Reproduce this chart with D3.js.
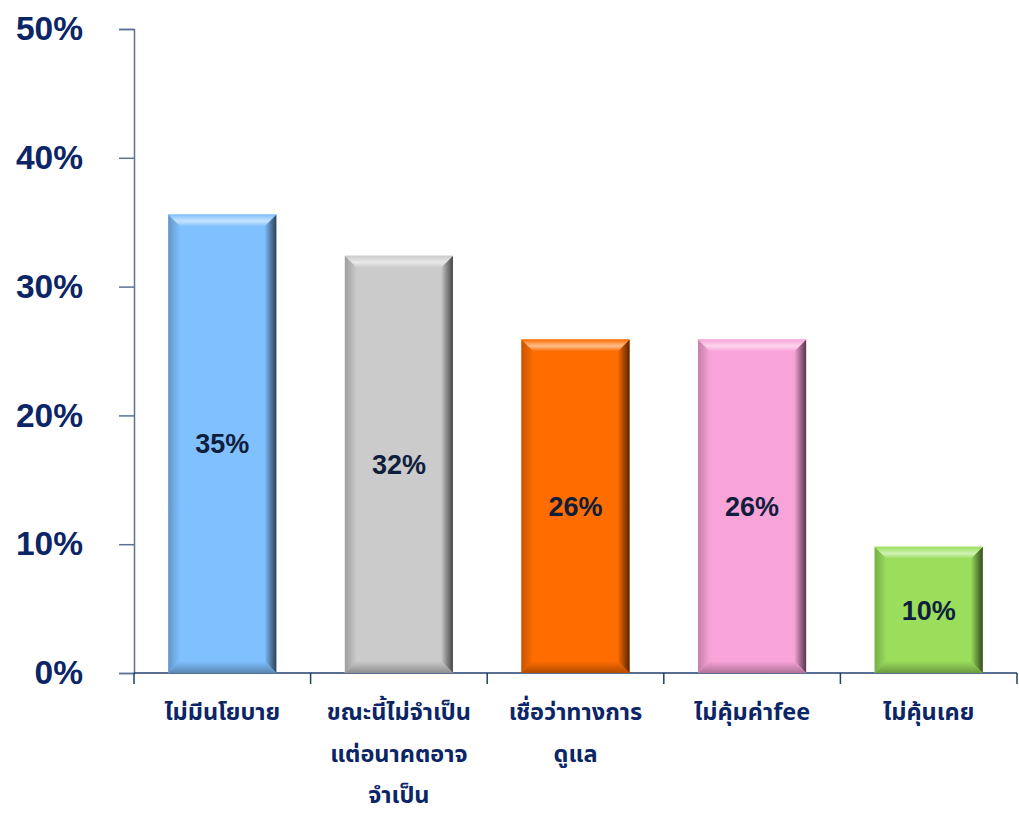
<!DOCTYPE html>
<html><head><meta charset="utf-8">
<script src="https://cdn.jsdelivr.net/npm/d3@7"></script>
<style>body{margin:0;background:#fff}svg{display:block}</style>
</head><body>
<svg id="chart" width="1019" height="815"></svg>
<script>
const categories = ["ไม่มีนโยบาย", "ขณะนี้ไม่จำเป็น\nแต่อนาคตอาจ\nจำเป็น", "เชื่อว่าทางการ\nดูแล", "ไม่คุ้มค่าfee", "ไม่คุ้นเคย"];
const values = [35.6, 32.4, 25.9, 25.9, 9.8];
const valueLabels = ["35%", "32%", "26%", "26%", "10%"];
const colors = ["#80c0ff", "#cbcbcb", "#ff6c00", "#f9a4d8", "#9ade5c"];
const yTicks = [0, 10, 20, 30, 40, 50];

(function () {
const svg = d3.select("#chart");
const pLeft = 134, pRight = 1017, pTop = 29, pBottom = 673;
const x = d3.scaleBand().domain(categories).range([pLeft, pRight]).paddingInner(0.388).paddingOuter(0.194);
const y = d3.scaleLinear().domain([0, 50]).range([pBottom, pTop]);
const textColor = "#0b2566";
const defs = svg.append("defs");

// y axis
const yAxis = svg.append("g").attr("transform", `translate(${pLeft},0)`)
  .call(d3.axisLeft(y).tickValues(yTicks).tickSize(15).tickPadding(36).tickFormat(d => d + "%"));
yAxis.select(".domain").attr("stroke", "#5b7394").attr("stroke-width", 1.5);
yAxis.selectAll(".tick line").attr("stroke", "#5b7394").attr("stroke-width", 1.5);
yAxis.selectAll(".tick text").attr("fill", textColor)
  .style("font-family", "'Liberation Sans', Arial, sans-serif").style("font-weight", "bold").style("font-size", "33.5px");

// x axis line & boundary ticks
svg.append("line").attr("x1", pLeft).attr("x2", pRight).attr("y1", pBottom).attr("y2", pBottom)
  .attr("stroke", "#213f6e").attr("stroke-width", 1.5);
const step = x.step();
d3.range(categories.length + 1).forEach(i => {
  const xx = pLeft + i * step;
  svg.append("line").attr("x1", xx).attr("x2", xx).attr("y1", pBottom).attr("y2", pBottom + 11)
    .attr("stroke", "#213f6e").attr("stroke-width", 1.5);
});

function grad(id, x1, y1, x2, y2, stops) {
  const g = defs.append("linearGradient").attr("id", id)
    .attr("x1", x1).attr("y1", y1).attr("x2", x2).attr("y2", y2);
  stops.forEach(s => g.append("stop").attr("offset", s[0]).attr("stop-color", s[1]));
}

const b = 12;
categories.forEach((c, i) => {
  const col = d3.color(colors[i]);
  const x0 = x(c), x1 = x0 + x.bandwidth(), y0 = y(values[i]), y1 = y(0);
  const g = svg.append("g");
  g.append("rect").attr("x", x0).attr("y", y0).attr("width", x1 - x0).attr("height", y1 - y0).attr("fill", col);
  grad("top" + i, 0, 0, 0, 1, [[0, col.toString()], [0.55, d3.interpolateRgb(col, "#ffffff")(0.55)], [1, col.toString()]]);
  grad("bot" + i, 0, 0, 0, 1, [[0, col.toString()], [1, col.darker(1.0).toString()]]);
  grad("lft" + i, 0, 0, 1, 0, [[0, col.darker(0.7).toString()], [1, col.toString()]]);
  grad("rgt" + i, 0, 0, 1, 0, [[0, col.toString()], [0.55, col.darker(1.3).toString()], [1, col.darker(3).toString()]]);
  const poly = pts => "M" + pts.map(p => p.join(",")).join("L") + "Z";
  g.append("path").attr("d", poly([[x0, y0], [x0 + b, y0 + b], [x0 + b, y1 - b], [x0, y1]])).attr("fill", `url(#lft${i})`);
  g.append("path").attr("d", poly([[x1, y0], [x1 - b, y0 + b], [x1 - b, y1 - b], [x1, y1]])).attr("fill", `url(#rgt${i})`);
  g.append("path").attr("d", poly([[x0, y0], [x1, y0], [x1 - b, y0 + b], [x0 + b, y0 + b]])).attr("fill", `url(#top${i})`);
  g.append("path").attr("d", poly([[x0 + b, y1 - b], [x1 - b, y1 - b], [x1, y1], [x0, y1]])).attr("fill", `url(#bot${i})`);
  g.append("text").attr("x", (x0 + x1) / 2).attr("y", (y0 + y1) / 2).attr("dy", "0.36em")
    .attr("text-anchor", "middle").attr("fill", "#0f1e3c")
    .style("font-family", "'Liberation Sans', Arial, sans-serif").style("font-weight", "bold").style("font-size", "27px")
    .text(valueLabels[i]);
  const lines = c.split("\n");
  const t = svg.append("text").attr("text-anchor", "middle").attr("fill", textColor)
    .style("font-family", "Tahoma, 'Noto Sans Thai', 'Noto Sans', sans-serif").style("font-weight", "bold").style("font-size", "23.5px");
  lines.forEach((ln, j) => {
    t.append("tspan").attr("x", (x0 + x1) / 2).attr("y", 720 + j * 41.5).text(ln);
  });
});
})();
</script>
</body></html>
